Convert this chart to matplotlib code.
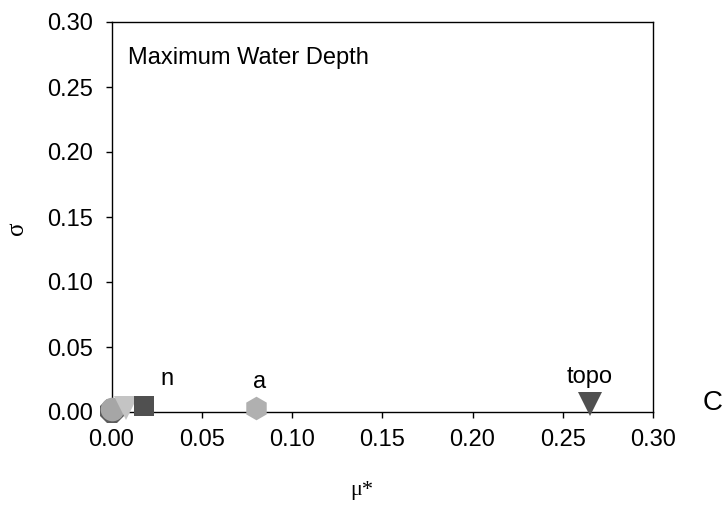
import matplotlib.pyplot as plt

# morris screening results (mu*, sigma)
names = ["p1", "p2", "p3", "n", "a", "topo"]
mu = [0.000, 0.000, 0.008, 0.018, 0.080, 0.265]
sigma = [0.001, 0.002, 0.003, 0.0045, 0.003, 0.006]
markers = ["8", "o", "v", "s", "h", "v"]
colors = ["#5c5c5c", "#a6a6a6", "#c4c4c4", "#505050", "#b0b0b0", "#505050"]
sizes = [19, 17, 17, 14, 17, 17]
labelled = {"n": (0.031, 0.0205), "a": (0.082, 0.0185), "topo": (0.265, 0.0222)}

fig = plt.figure(figsize=(7.25, 5.08), dpi=100)
L, R, T, B = 111.5, 653, 22, 412
ax = fig.add_axes([L/725, 1 - B/508, (R - L)/725, (B - T)/508])

for m, s, mk, c, ms in zip(mu, sigma, markers, colors, sizes):
    ax.plot(m, s, marker=mk, color=c, markersize=ms, markeredgewidth=0,
            linestyle="none", clip_on=False, zorder=3)

for k, (x, y) in labelled.items():
    ax.text(x, y, k, fontsize=17, ha="center", va="baseline", family="Liberation Sans")

ax.set_xlim(0, 0.30)
ax.set_ylim(0, 0.30)
ticks = [0.00, 0.05, 0.10, 0.15, 0.20, 0.25, 0.30]
ax.set_xticks(ticks)
ax.set_yticks(ticks)
ax.set_xticklabels([f"{t:.2f}" for t in ticks])
ax.set_yticklabels([f"{t:.2f}" for t in ticks])
ax.tick_params(direction="out", labelsize=17, length=4.5, width=1)
ax.tick_params(axis="y", pad=9)
ax.tick_params(axis="x", pad=8)
for lbl in ax.get_xticklabels() + ax.get_yticklabels():
    lbl.set_family("Liberation Sans")
for sp in ax.spines.values():
    sp.set_linewidth(1)

ax.set_xlabel("μ*", fontsize=16, family="Liberation Serif")
ax.xaxis.set_label_coords((362 - L)/(R - L), (B - 490)/(B - T))
ax.xaxis.label.set_va("center")
ax.set_ylabel("σ", fontsize=18, family="Liberation Serif")
ax.yaxis.set_label_coords((17 - L)/(R - L), (B - 228)/(B - T))
ax.yaxis.label.set_va("center")

ax.text((128 - L)/(R - L), (B - 58)/(B - T), "Maximum Water Depth", transform=ax.transAxes,
        fontsize=17, va="center", family="Liberation Sans")
fig.text(713/725, 1 - 403/508, "C", fontsize=20, ha="center", va="center", family="Liberation Sans")

fig.savefig("out.png", dpi=100)
